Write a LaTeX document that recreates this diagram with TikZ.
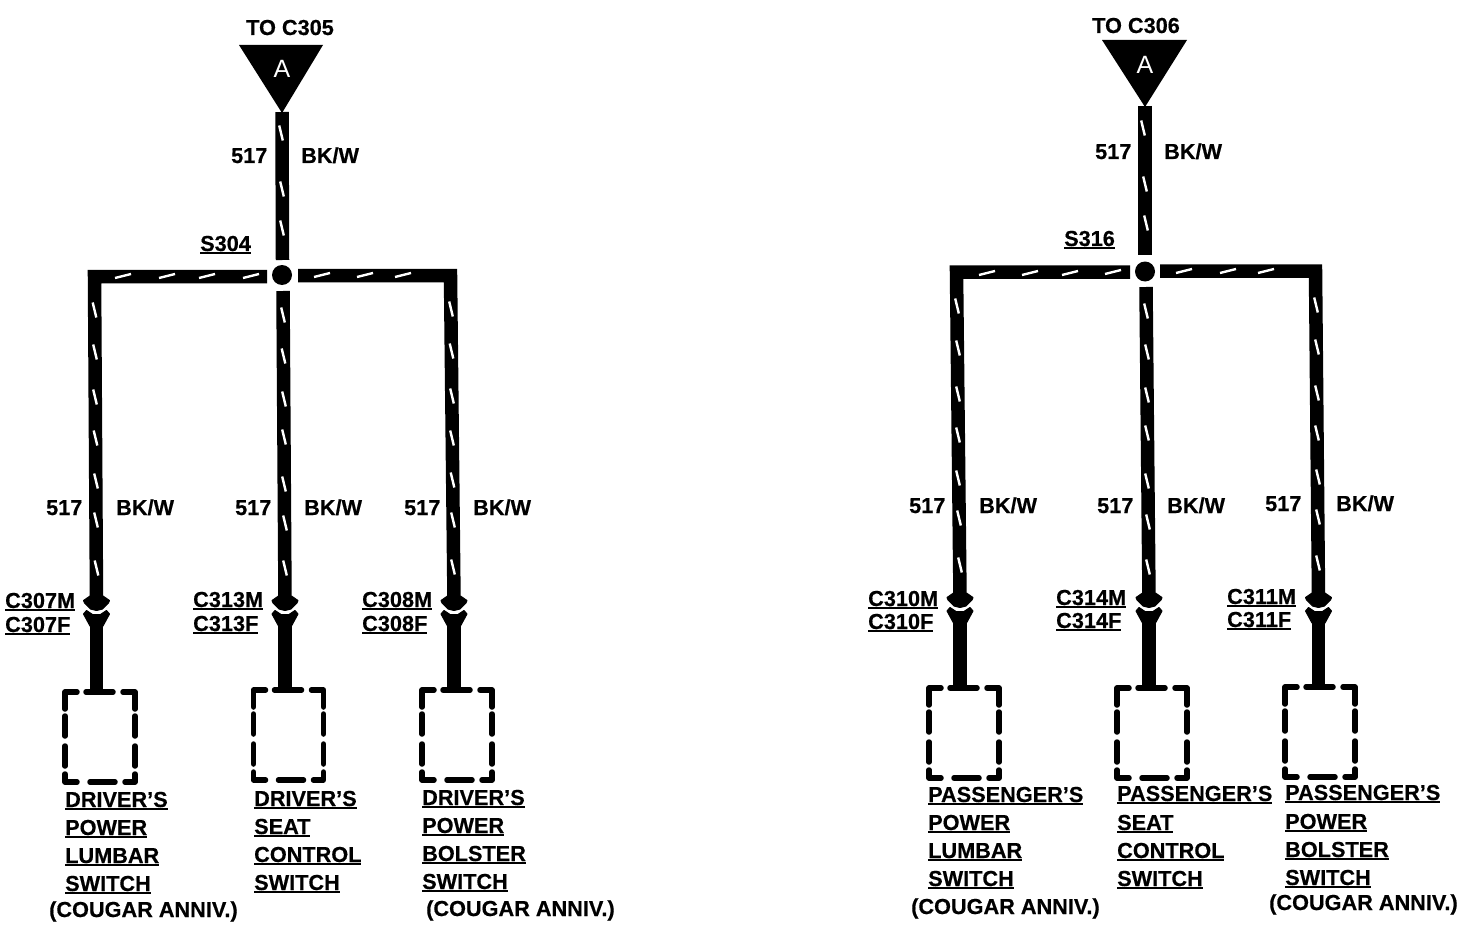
\documentclass[tikz,border=0pt]{standalone}
\usepackage{fontspec}
\setmainfont{Liberation Sans}[BoldFeatures={FakeBold=0.5}]
\newcommand\ulbl[1]{\vtop{\hbox{#1}\kern0.8pt\hrule height 2pt}}
\newcommand\lbl[4]{\node[wlabel] (#1) at (#2,#3) {#4};}
\newcommand\ulb[4]{\node[wlabel] (#1) at (#2,#3) {\ulbl{#4}};}
\newcommand\drop[5]{%
  \coordinate (#1h) at (#2,#3);
  \coordinate (#1f) at (#2,#3+14);
  \coordinate (#1b) at (#2,#5);
  \fill[plug] (#2-6.5,#3-4) -- (#2-13,#3+0.5) -- (#2-12,#3+3) -- (#2-6,#3+9) -- (#2,#3+10.5) -- (#2+6,#3+9) -- (#2+12,#3+3) -- (#2+13,#3+0.5) -- (#2+6.5,#3-4) -- cycle;
  \fill[plug] (#2-13,#3+14) -- (#2-10,#3+10.5) -- (#2-4,#3+14.5) -- (#2,#3+15) -- (#2+4,#3+14.5) -- (#2+10,#3+10.5) -- (#2+13,#3+14) -- (#2+6.5,#3+26) -- (#2-6.5,#3+26) -- cycle;
  \draw[wire] (#1f) -- (#1b);
  \begin{scope}[shift={(#4,#5)}]
    \draw[swbox] (0,17) -- (0,0) -- (12,0);
    \draw[swbox] (21,0) -- (48,0);
    \draw[swbox] (58,0) -- (70,0) -- (70,17);
    \draw[swbox] (0,24) -- (0,44);
    \draw[swbox] (0,54) -- (0,74);
    \draw[swbox] (70,24) -- (70,44);
    \draw[swbox] (70,54) -- (70,74);
    \draw[swbox] (0,82) -- (0,90) -- (12,90);
    \draw[swbox] (25,90) -- (50,90);
    \draw[swbox] (60,90) -- (70,90) -- (70,82);
  \end{scope}
}
\tikzset{
  wire/.style={line width=13.5pt,line join=miter,line cap=butt},
  plug/.style={black,draw=black,line width=1pt,line join=round},
  swbox/.style={line width=5.5pt,line cap=round,line join=round},
  vtick/.style={white,line width=2.4pt},
  wlabel/.style={anchor=base west,inner sep=0pt,font=\fontsize{21.7}{24}\selectfont\bfseries},
  flag/.style={fill=black,draw=none},
  flagtext/.style={anchor=base,inner sep=0pt,text=white,font=\fontsize{25}{28}\selectfont},
  splice/.style={circle,fill=black,inner sep=0pt,minimum size=20pt}
}
\begin{document}
\begin{tikzpicture}[x=1pt,y=-1pt]
\useasboundingbox (0,0) rectangle (1462,928);
% ---------- left group
\fill[flag] (239,45) -- (323,45) -- (282,113) -- cycle;
\node[flagtext] (flagA) at (282,78) {A};
\coordinate (a0) at (282,112);
\coordinate (a1) at (282.5,260);
\node[splice] (sa) at (282,275) {};
\draw[wire] (a0) -- (a1);
\coordinate (a2) at (267,276.5);
\coordinate (a3) at (94.5,276.5);
\coordinate (a4) at (298,275.5);
\coordinate (a5) at (450.5,275.5);
\coordinate (a6) at (283,291);
\drop{da}{96.5}{600}{65}{692}
\drop{db}{285}{600}{253.5}{690}
\drop{dc}{454}{600}{422}{690}
\draw[wire] (a2) -- (a3) -- (dah);
\draw[wire] (a6) -- (dbh);
\draw[wire] (a4) -- (a5) -- (dch);
% ---------- right group
\fill[flag] (1102,40) -- (1187,40) -- (1145,107) -- cycle;
\node[flagtext] (flagB) at (1145,74) {A};
\coordinate (b0) at (1145,106);
\coordinate (b1) at (1145,255);
\node[splice] (sb) at (1145,271.5) {};
\draw[wire] (b0) -- (b1);
\coordinate (b2) at (1130,272);
\coordinate (b3) at (956.5,272);
\coordinate (b4) at (1160,271);
\coordinate (b5) at (1315.5,271);
\coordinate (b6) at (1146,287);
\drop{de}{960}{597}{929}{688}
\drop{df}{1149}{597}{1117}{688}
\drop{dg}{1318.5}{597}{1285}{687}
\draw[wire] (b2) -- (b3) -- (deh);
\draw[wire] (b6) -- (dfh);
\draw[wire] (b4) -- (b5) -- (dgh);
% ---------- white stripes
\foreach \x/\y in {281/133,282/189,282/228,
  94.5/310,95/352,95/397,95.5/438,96/481,96/520,96.5/568,
  283/315,283.5/356,284/399,284/437,284/484,285/523,285/568,
  451/309,451.5/351,452/396,452/438,452.5/480,453/520,453/567,
  1143/128,1145/184,1146/223,
  957/306,958/348,958/394,958/435,958/478,959/518,960/565,
  1146/311,1147/352,1147/395,1147/433,1147/481,1148/522,1148/567,
  1316/305,1317/347,1317/393,1317/433,1318/477,1318/517,1318/563}
  \draw[vtick] (\x-1.8,\y-7.5) -- (\x+1.8,\y+7.5);
\foreach \x/\y in {123/276,167/276,207/276,251/276,322/275,365/275,403/275,
  987/273,1030/273,1070/273,1113/272,1184/271,1228/271,1266/271}
  \draw[vtick] (\x-8,\y+2) -- (\x+8,\y-2);
% ---------- left labels
\lbl{l1}{246}{35}{TO C305}
\lbl{l2}{231}{163}{517}
\lbl{l3}{301}{163}{BK/W}
\ulb{l4}{200}{251}{S304}
\lbl{l5}{46}{515}{517}
\lbl{l6}{116}{515}{BK/W}
\lbl{l7}{235}{515}{517}
\lbl{l8}{304}{515}{BK/W}
\lbl{l9}{404}{515}{517}
\lbl{l10}{473}{515}{BK/W}
\ulb{c1}{5}{608}{C307M}
\ulb{c2}{5}{632}{C307F}
\ulb{c3}{193}{607}{C313M}
\ulb{c4}{193}{631}{C313F}
\ulb{c5}{362}{607}{C308M}
\ulb{c6}{362}{631}{C308F}
\ulb{s1}{65}{807}{DRIVER'S}
\ulb{s2}{65}{835}{POWER}
\ulb{s3}{65}{863}{LUMBAR}
\ulb{s4}{65}{891}{SWITCH}
\lbl{s5}{49}{917}{(COUGAR ANNIV.)}
\ulb{s6}{254}{806}{DRIVER'S}
\ulb{s7}{254}{834}{SEAT}
\ulb{s8}{254}{862}{CONTROL}
\ulb{s9}{254}{890}{SWITCH}
\ulb{s10}{422}{805}{DRIVER'S}
\ulb{s11}{422}{833}{POWER}
\ulb{s12}{422}{861}{BOLSTER}
\ulb{s13}{422}{889}{SWITCH}
\lbl{s14}{426}{916}{(COUGAR ANNIV.)}
% ---------- right labels
\lbl{r1}{1092}{33}{TO C306}
\lbl{r2}{1095}{159}{517}
\lbl{r3}{1164}{159}{BK/W}
\ulb{r4}{1064}{246}{S316}
\lbl{r5}{909}{513}{517}
\lbl{r6}{979}{513}{BK/W}
\lbl{r7}{1097}{513}{517}
\lbl{r8}{1167}{513}{BK/W}
\lbl{r9}{1265}{511}{517}
\lbl{r10}{1336}{511}{BK/W}
\ulb{e1}{868}{606}{C310M}
\ulb{e2}{868}{629}{C310F}
\ulb{e3}{1056}{605}{C314M}
\ulb{e4}{1056}{628}{C314F}
\ulb{e5}{1227}{604}{C311M}
\ulb{e6}{1227}{627}{C311F}
\ulb{t1}{928}{802}{PASSENGER'S}
\ulb{t2}{928}{830}{POWER}
\ulb{t3}{928}{858}{LUMBAR}
\ulb{t4}{928}{886}{SWITCH}
\lbl{t5}{911}{914}{(COUGAR ANNIV.)}
\ulb{t6}{1117}{801}{PASSENGER'S}
\ulb{t7}{1117}{830}{SEAT}
\ulb{t8}{1117}{858}{CONTROL}
\ulb{t9}{1117}{886}{SWITCH}
\ulb{t10}{1285}{800}{PASSENGER'S}
\ulb{t11}{1285}{829}{POWER}
\ulb{t12}{1285}{857}{BOLSTER}
\ulb{t13}{1285}{885}{SWITCH}
\lbl{t14}{1269}{910}{(COUGAR ANNIV.)}
\end{tikzpicture}
\end{document}
